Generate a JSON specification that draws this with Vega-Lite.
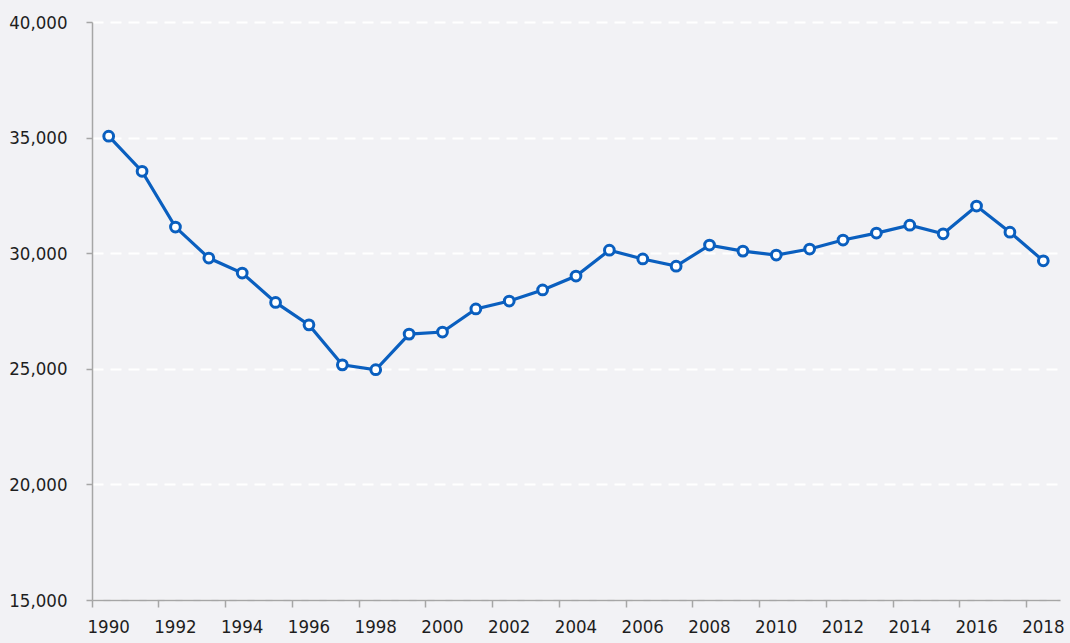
{
  "$schema": "https://vega.github.io/schema/vega-lite/v6.json",
  "width": 968,
  "height": 578,
  "autosize": "none",
  "padding": {"left": 92, "top": 22, "right": 10, "bottom": 43},
  "background": "#f2f2f5",
  "config": {
    "view": {"stroke": null, "fill": "#f2f2f5"},
    "font": "Liberation Sans Narrow, DejaVu Sans Condensed, Liberation Sans, sans-serif"
  },
  "data": {
    "values": [
      {"year": "1990", "value": 35060},
      {"year": "1991", "value": 33540},
      {"year": "1992", "value": 31130},
      {"year": "1993", "value": 29790},
      {"year": "1994", "value": 29140},
      {"year": "1995", "value": 27870},
      {"year": "1996", "value": 26900},
      {"year": "1997", "value": 25170},
      {"year": "1998", "value": 24960},
      {"year": "1999", "value": 26500},
      {"year": "2000", "value": 26590},
      {"year": "2001", "value": 27590},
      {"year": "2002", "value": 27930},
      {"year": "2003", "value": 28410},
      {"year": "2004", "value": 29010},
      {"year": "2005", "value": 30130},
      {"year": "2006", "value": 29750},
      {"year": "2007", "value": 29440},
      {"year": "2008", "value": 30350},
      {"year": "2009", "value": 30090},
      {"year": "2010", "value": 29920},
      {"year": "2011", "value": 30180},
      {"year": "2012", "value": 30570},
      {"year": "2013", "value": 30870},
      {"year": "2014", "value": 31210},
      {"year": "2015", "value": 30840},
      {"year": "2016", "value": 32040},
      {"year": "2017", "value": 30910},
      {"year": "2018", "value": 29670}
    ]
  },
  "encoding": {
    "x": {
      "field": "year",
      "type": "ordinal",
      "bandPosition": 0.5,
      "scale": {"type": "band", "paddingInner": 0, "paddingOuter": 0},
      "axis": {
        "title": null,
        "values": ["1990","1992","1994","1996","1998","2000","2002","2004","2006","2008","2010","2012","2014","2016","2018"],
        "bandPosition": 0,
        "labelAngle": 0,
        "labelDx": 16.7,
        "labelFontSize": 18.5,
        "labelColor": "#1e1e1e",
        "labelPadding": 10,
        "domainColor": "#a6a6a6",
        "domainWidth": 1.5,
        "tickColor": "#a6a6a6",
        "tickWidth": 1.5,
        "tickSize": 7,
        "grid": false
      }
    },
    "y": {
      "field": "value",
      "type": "quantitative",
      "scale": {"domain": [15000, 40000], "nice": false, "zero": false},
      "axis": {
        "title": null,
        "values": [15000, 20000, 25000, 30000, 35000, 40000],
        "format": ",.0f",
        "labelFontSize": 18.5,
        "labelColor": "#1e1e1e",
        "labelPadding": 19,
        "domainColor": "#a6a6a6",
        "domainWidth": 1.5,
        "tickColor": "#a6a6a6",
        "tickWidth": 1.5,
        "tickSize": 6,
        "grid": true,
        "gridColor": "#ffffff",
        "gridWidth": 2,
        "gridDash": [11, 7]
      }
    }
  },
  "layer": [
    {"mark": {"type": "line", "color": "#0a5fbf", "strokeWidth": 3.2}},
    {"mark": {"type": "point", "filled": true, "fill": "#ffffff", "stroke": "#0a5fbf", "strokeWidth": 3, "size": 95, "opacity": 1}}
  ]
}
